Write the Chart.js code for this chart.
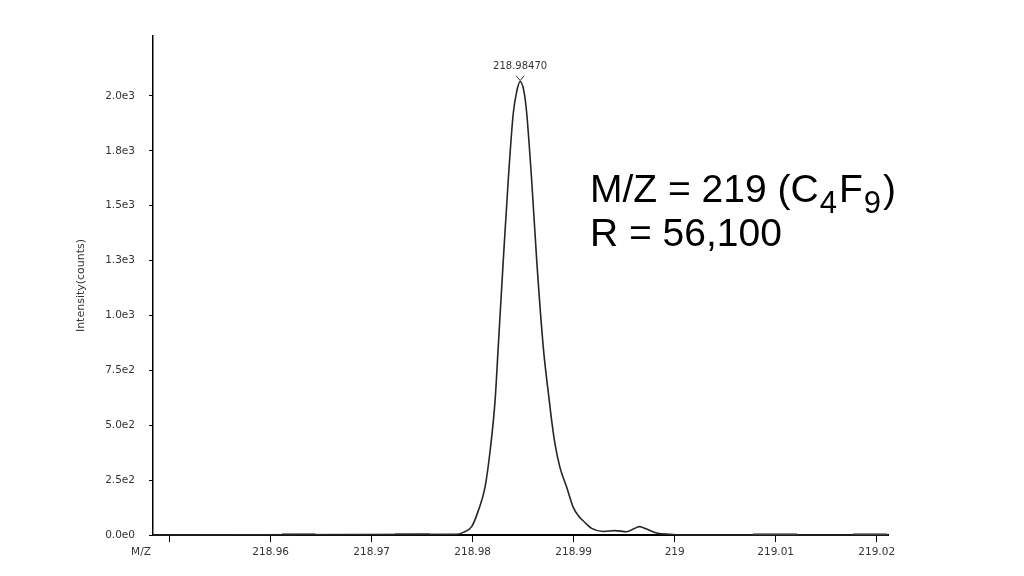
<!DOCTYPE html>
<html lang="en">

<head>
    <meta charset="UTF-8">
    <title>M/Z 219 peak</title>
    <script src="https://cdn.jsdelivr.net/npm/chart.js"></script>
    <style>
        html, body {
            margin: 0;
            padding: 0;
            background: #fff;
        }

        #contenedor {
            width: 1024px;
            height: 576px;
        }
    </style>
</head>

<body>
    <div id="contenedor">
        <canvas id="canvas"></canvas>
    </div>

    <script>
        // peak profile
        const mz = [218.94835, 218.9784, 218.97907, 218.9799, 218.98056, 218.98122, 218.98173, 218.98222,
            218.98253, 218.98303, 218.98352, 218.98402, 218.98436, 218.98470, 218.98508, 218.98535,
            218.98584, 218.98634, 218.98699, 218.98758, 218.98782, 218.98815, 218.98864, 218.98931,
            218.98996, 218.99046, 218.99112, 218.99178, 218.99293, 218.99409, 218.99525, 218.9959,
            218.9965, 218.99723, 218.99822, 218.99954, 219.0005, 219.02112]
        const intensity = [0, 3, 12, 38, 111, 217, 385, 613,
            856, 1251, 1616, 1921, 2020, 2065, 2020, 1921,
            1616, 1251, 856, 613, 521, 415, 308, 217,
            126, 88, 57, 30, 16, 20, 15, 27,
            38, 27, 9, 3, 0, 0]

        // little grey noise bits lying on the baseline
        const noiseMz = [218.96111, 218.96441, 218.9645, 218.97231, 218.97577, 218.9759,
            219.00775, 219.01211, 219.0122, 219.01765, 219.02102]
        const noiseIntensity = [5, 5, null, 5, 5, null, 5, 5, null, 5, 5]

        const yTicks = [0, 250, 500, 750, 1000, 1250, 1500, 1750, 2000]
        const xTicks = [218.95, 218.96, 218.97, 218.98, 218.99, 219, 219.01, 219.02]

        const tickFont = { family: 'DejaVu Sans', size: 10.5 }
        const txtColor = '#333'

        function toPoints(xs, ys) {
            let pts = new Array()
            for (let i = 0; i < xs.length; i++) {
                pts.push({ x: xs[i], y: ys[i] })
            }
            return pts
        }

        function fmtExp(v) {
            return v.toExponential(1).replace('+', '')
        }

        const extras = {
            id: 'extras',
            afterDraw(chart) {
                const c = chart.ctx
                const xs = chart.scales.x
                const ys = chart.scales.y

                // peak marker + label
                let k = 0
                for (let i = 1; i < intensity.length; i++) {
                    if (intensity[i] > intensity[k]) k = i
                }
                const px = xs.getPixelForValue(mz[k])
                const py = ys.getPixelForValue(intensity[k])
                c.save()
                c.strokeStyle = '#333'
                c.lineWidth = 1
                c.beginPath()
                c.moveTo(px - 4, py - 6)
                c.lineTo(px, py - 1)
                c.lineTo(px + 4, py - 6)
                c.stroke()
                c.fillStyle = txtColor
                c.font = '10px "DejaVu Sans"'
                c.textAlign = 'center'
                c.textBaseline = 'middle'
                c.fillText(mz[k].toFixed(5), px, py - 15)

                // axis name under the first tick
                c.font = '10.5px "DejaVu Sans"'
                c.fillText('M/Z', 141, 552)

                // big annotation
                c.fillStyle = '#000'
                c.textAlign = 'left'
                c.textBaseline = 'alphabetic'
                const big = '39px "Liberation Sans"'
                const small = '31px "Liberation Sans"'
                let x = 590
                const parts = [['M/Z = 219 (C', big, 0, 1], ['4', small, 11, 2], ['F', big, 0, 1], ['9', small, 11, 2], [')', big, 0, 0]]
                for (const p of parts) {
                    c.font = p[1]
                    c.fillText(p[0], x, 202 + p[2])
                    x += c.measureText(p[0]).width + p[3]
                }
                c.font = big
                c.fillText('R = 56,100', 590, 246)
                c.restore()
            }
        }

        const ctx = document.getElementById('canvas')
        let graph = new Chart(ctx, {
            type: 'line',
            data: {
                datasets: [{
                    label: 'Intensity',
                    data: toPoints(mz, intensity),
                    borderColor: '#262626',
                    borderWidth: 1.6,
                    pointRadius: 0,
                    cubicInterpolationMode: 'monotone',
                    clip: 4
                }, {
                    label: 'noise',
                    data: toPoints(noiseMz, noiseIntensity),
                    borderColor: '#8c8c8c',
                    borderWidth: 2,
                    pointRadius: 0,
                    spanGaps: false,
                    clip: 4
                }]
            },
            options: {
                responsive: true,
                maintainAspectRatio: false,
                animation: false,
                layout: {
                    padding: { left: 0, right: 136, top: 36, bottom: 0 }
                },
                plugins: {
                    legend: { display: false },
                    tooltip: { enabled: false }
                },
                scales: {
                    x: {
                        type: 'linear',
                        min: 218.94835,
                        max: 219.02112,
                        afterFit(scale) { scale.height = 41 },
                        afterBuildTicks(scale) {
                            scale.ticks = xTicks.map(v => ({ value: v }))
                        },
                        border: { color: '#000', width: 2 },
                        grid: { drawOnChartArea: false, drawTicks: true, tickLength: 7, color: '#000', lineWidth: 1 },
                        ticks: {
                            color: txtColor,
                            font: tickFont,
                            padding: 4,
                            maxRotation: 0,
                            autoSkip: false,
                            callback: v => (v === xTicks[0] ? '' : String(Number(v.toFixed(2))))
                        }
                    },
                    y: {
                        min: 0,
                        max: 2273,
                        afterFit(scale) { scale.width = 153 },
                        afterBuildTicks(scale) {
                            scale.ticks = yTicks.map(v => ({ value: v }))
                        },
                        border: { color: '#000', width: 1.5 },
                        grid: { drawOnChartArea: false, drawTicks: true, tickLength: 4, color: '#000', lineWidth: 1 },
                        title: {
                            display: true,
                            text: 'Intensity(counts)',
                            color: txtColor,
                            font: { family: 'DejaVu Sans', size: 11 },
                            padding: { top: 75, bottom: 0 }
                        },
                        ticks: {
                            color: txtColor,
                            font: tickFont,
                            padding: 14,
                            autoSkip: false,
                            callback: v => fmtExp(v)
                        }
                    }
                }
            },
            plugins: [extras]
        })
    </script>

</body>

</html>
